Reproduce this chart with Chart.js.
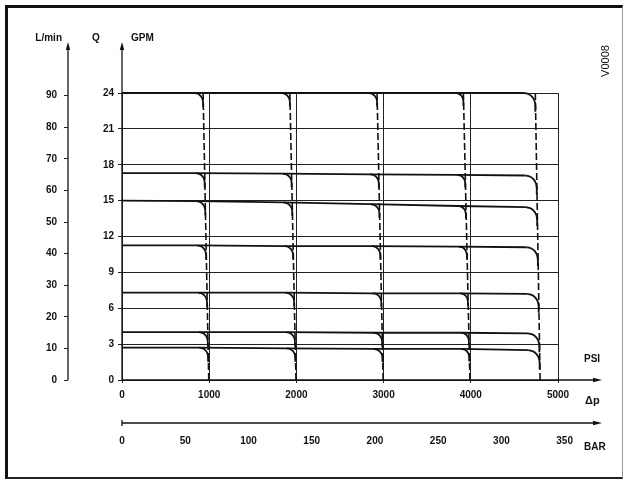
<!DOCTYPE html>
<html><head><meta charset="utf-8">
<script src="https://cdn.jsdelivr.net/npm/chart.js@4.4.1/dist/chart.umd.min.js"></script>
<style>
html,body{margin:0;padding:0;background:#fff;}
#wrap{position:relative;width:628px;height:480px;}
#frame{position:absolute;left:5px;top:5px;width:614px;height:469px;border-top:3px solid #111;border-left:3px solid #111;border-bottom:2px solid #222;border-right:1px solid #999;pointer-events:none;}
</style></head><body>
<div id="wrap"><canvas id="c" width="628" height="480"></canvas><div id="frame"></div></div>
<script>
// ---- tick labels ----
const psiTicks = [0, 1000, 2000, 3000, 4000, 5000];
const gpmTicks = [0, 3, 6, 9, 12, 15, 18, 21, 24];
const lpmTicks = [0, 10, 20, 30, 40, 50, 60, 70, 80, 90];
const barTicks = [0, 50, 100, 150, 200, 250, 300, 350];

// ---- flow curves (GPM) ----
// flow at 0 psi for each curve (top to bottom)
const flowAtZeroPsi = [24, 17.3, 15.0, 11.25, 7.3, 4.0, 2.7];
// flow where each curve reaches the knee of each relief setting (~1000, 2000, 3000, 4000, 4800 psi)
const kneeFlowGpm = [
  [24.0, 24.0, 24.0, 24.0, 24.0],
  [17.3, 17.25, 17.2, 17.15, 17.1],
  [14.95, 14.85, 14.7, 14.55, 14.45],
  [11.25, 11.2, 11.2, 11.15, 11.1],
  [7.3, 7.3, 7.25, 7.25, 7.2],
  [4.0, 4.0, 3.95, 3.95, 3.9],
  [2.7, 2.65, 2.6, 2.6, 2.5]
];
// relief (dashed) lines: psi at each curve's flow level (top to bottom), last value at 0 GPM
const reliefPsi = [
  [930, 948, 955, 965, 975, 984, 988, 995],
  [1925, 1945, 1952, 1962, 1974, 1983, 1987, 1995],
  [2925, 2945, 2952, 2962, 2974, 2983, 2987, 2995],
  [3915, 3936, 3944, 3955, 3967, 3978, 3982, 3990],
  [4740, 4756, 4761, 4769, 4778, 4786, 4789, 4795]
];

// unit conversions
const LPM_PER_GPM = 3.785411784;
const PSI_PER_BAR = 14.5037738;

// styling of knees (rounded corners): size per relief setting and a quarter-round template
const kneeWidthPsi = [100, 100, 100, 90, 130];
const kneeDropGpm = [0.8, 0.75, 0.75, 0.7, 1.05];
const kneeTemplate = [[0, 0], [0.383, 0.076], [0.707, 0.293], [0.924, 0.617], [1, 1], [1, 1.5]];

const INK = '#111';
const FONT = {family: '"Liberation Sans", Arial, Helvetica, sans-serif', size: 10, weight: 'bold'};

const datasets = [];
// dashed relief lines
reliefPsi.forEach(r => {
  datasets.push({
    data: [{x: r[0], y: gpmTicks[gpmTicks.length - 1]}, {x: r[r.length - 1], y: 0}],
    borderColor: INK, borderWidth: 1.6, borderDash: [7, 3], showLine: true, pointRadius: 0, clip: false
  });
});
// flow lines
flowAtZeroPsi.forEach((q0, i) => {
  const pts = [{x: 0, y: q0}];
  reliefPsi.forEach((r, j) => pts.push({x: r[i] - kneeWidthPsi[j], y: kneeFlowGpm[i][j]}));
  datasets.push({data: pts, borderColor: INK, borderWidth: 1.8, showLine: true, pointRadius: 0, clip: false});
});
// rounded knees
flowAtZeroPsi.forEach((q0, i) => {
  reliefPsi.forEach((r, j) => {
    const q = kneeFlowGpm[i][j], w = kneeWidthPsi[j], d = kneeDropGpm[j], xr = r[i];
    datasets.push({
      data: kneeTemplate.map(([u, v]) => ({x: xr - w + u * w, y: q - v * d})),
      borderColor: INK, borderWidth: 1.8, showLine: true, pointRadius: 0, tension: 0.2, clip: false
    });
  });
});

function setTicks(list) { return s => { s.ticks = list.map(v => ({value: v})); }; }
const plain = v => String(v);

const decor = {
  id: 'decor',
  afterDraw(chart) {
    const {ctx, chartArea: a, scales: s} = chart;
    ctx.save();
    ctx.strokeStyle = INK; ctx.fillStyle = INK; ctx.lineWidth = 1.3;
    const topY = a.top - 51, rightX = a.right + 44;
    const lx = s.lpm.right, gx = s.y.right, barY = s.bar.top;
    function line(x1, y1, x2, y2) { ctx.beginPath(); ctx.moveTo(x1, y1); ctx.lineTo(x2, y2); ctx.stroke(); }
    function headUp(x, y) { ctx.beginPath(); ctx.moveTo(x, y); ctx.lineTo(x - 2.2, y + 8); ctx.lineTo(x + 2.2, y + 8); ctx.closePath(); ctx.fill(); }
    function headRight(x, y) { ctx.beginPath(); ctx.moveTo(x, y); ctx.lineTo(x - 9, y - 2.2); ctx.lineTo(x - 9, y + 2.2); ctx.closePath(); ctx.fill(); }
    line(lx, a.bottom, lx, topY + 4); headUp(lx, topY);
    line(gx, a.bottom + 0.5, gx, topY + 4); headUp(gx, topY);
    line(a.left, a.bottom, rightX - 4, a.bottom); headRight(rightX, a.bottom);
    line(a.left, barY, rightX - 4, barY); headRight(rightX, barY);
    line(a.left, barY - 3, a.left, barY + 3);
    const f = (sz) => 'bold ' + sz + 'px "Liberation Sans", Arial, sans-serif';
    ctx.font = f(10);
    ctx.textBaseline = 'middle';
    ctx.textAlign = 'right'; ctx.fillText('L/min', lx - 6, topY - 4);
    ctx.textAlign = 'center'; ctx.fillText('Q', gx - 26, topY - 4);
    ctx.textAlign = 'left'; ctx.fillText('GPM', gx + 9, topY - 4);
    ctx.fillText('PSI', a.right + 26, a.bottom - 21);
    ctx.font = f(11);
    ctx.fillText('\u0394p', a.right + 27, a.bottom + 21);
    ctx.font = f(10);
    ctx.fillText('BAR', a.right + 26, barY + 24);
    ctx.save();
    ctx.translate(a.right + 48, a.top - 32);
    ctx.rotate(-Math.PI / 2);
    ctx.textAlign = 'center';
    ctx.font = '11px "Liberation Sans", Arial, sans-serif';
    ctx.fillText('V0008', 0, 0);
    ctx.restore();
    ctx.restore();
  }
};

new Chart(document.getElementById('c'), {
  type: 'scatter',
  data: {datasets},
  options: {
    responsive: false, animation: false, devicePixelRatio: 1,
    layout: {padding: {left: 10, top: 93, right: 70, bottom: 27}},
    plugins: {legend: {display: false}, tooltip: {enabled: false}},
    elements: {point: {radius: 0}},
    scales: {
      x: {
        type: 'linear', position: 'bottom', weight: 0, min: 0, max: psiTicks[psiTicks.length - 1],
        afterBuildTicks: setTicks(psiTicks),
        ticks: {font: FONT, color: INK, padding: 6, autoSkip: false, maxRotation: 0, callback: plain},
        grid: {color: '#222', lineWidth: 1, drawTicks: true, tickLength: 3},
        border: {display: false},
        afterFit: s => { s.height = 43; }
      },
      bar: {
        type: 'linear', position: 'bottom', weight: 1, min: 0, max: psiTicks[psiTicks.length - 1] / PSI_PER_BAR,
        bounds: 'data',
        afterBuildTicks: setTicks(barTicks),
        ticks: {font: FONT, color: INK, padding: 4, autoSkip: false, maxRotation: 0, callback: plain},
        grid: {display: false}, border: {display: false},
        afterFit: s => { s.height = 30; }
      },
      y: {
        type: 'linear', position: 'left', weight: 0, min: 0, max: gpmTicks[gpmTicks.length - 1],
        afterBuildTicks: setTicks(gpmTicks),
        ticks: {font: FONT, color: INK, padding: 4, autoSkip: false, callback: plain},
        grid: {color: '#222', lineWidth: 1, drawTicks: true, tickLength: 4},
        border: {display: false},
        afterFit: s => { s.width = 54; }
      },
      lpm: {
        type: 'linear', position: 'left', weight: 1, min: 0, max: gpmTicks[gpmTicks.length - 1] * LPM_PER_GPM,
        bounds: 'data',
        afterBuildTicks: setTicks(lpmTicks),
        ticks: {font: FONT, color: INK, padding: 7, autoSkip: false, callback: plain},
        grid: {drawOnChartArea: false, color: '#222', lineWidth: 1, drawTicks: true, tickLength: 4},
        border: {display: false},
        afterFit: s => { s.width = 58; }
      }
    }
  },
  plugins: [decor]
});
</script>
</body></html>
